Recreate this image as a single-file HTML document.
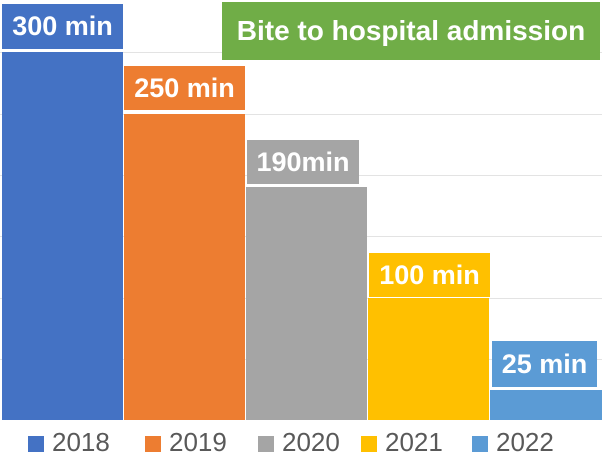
<!DOCTYPE html>
<html><head><style>
body{margin:0;width:602px;height:464px;background:#fff;position:relative;overflow:hidden;font-family:"Liberation Sans",sans-serif}
div{position:absolute;box-sizing:border-box}
.g{left:0;width:602px;height:1px;background:#e3e3e3}
.lab{color:#fff;font-weight:bold;font-size:27px;display:flex;align-items:center;justify-content:center;white-space:nowrap}
.sq{width:16px;height:16px;top:436px}
.lt{top:427px;font-size:26px;color:#595959}
</style></head><body>
<div class="g" style="top:52px"></div><div class="g" style="top:114px"></div><div class="g" style="top:175px"></div><div class="g" style="top:236px"></div><div class="g" style="top:298px"></div><div class="g" style="top:359px"></div>
<div style="left:2px;top:52px;width:121px;height:368px;background:#4472c4"></div>
<div style="left:124px;top:114px;width:121px;height:306px;background:#ed7d31"></div>
<div style="left:246px;top:187px;width:121px;height:233px;background:#a5a5a5"></div>
<div style="left:368px;top:298px;width:121px;height:122px;background:#ffc000"></div>
<div style="left:490px;top:390px;width:112px;height:30px;background:#5b9bd5"></div>
<div class="lab" style="left:2px;top:4px;width:121px;height:45px;background:#4472c4">300 min</div>
<div class="lab" style="left:124px;top:66px;width:121px;height:44px;background:#ed7d31">250 min</div>
<div class="lab" style="left:247px;top:140px;width:112px;height:44px;background:#a5a5a5">190min</div>
<div class="lab" style="left:369px;top:253px;width:121px;height:44px;background:#ffc000">100 min</div>
<div class="lab" style="left:492px;top:341px;width:105px;height:46px;background:#5b9bd5">25 min</div>
<div class="lab" style="left:222px;top:2px;width:378px;height:58px;background:#70ad47;font-size:28px">Bite to hospital admission</div>
<div class="sq" style="left:28px;background:#4472c4"></div><div class="lt" style="left:52px">2018</div>
<div class="sq" style="left:145px;background:#ed7d31"></div><div class="lt" style="left:169px">2019</div>
<div class="sq" style="left:258px;background:#a5a5a5"></div><div class="lt" style="left:282px">2020</div>
<div class="sq" style="left:361px;background:#ffc000"></div><div class="lt" style="left:385px">2021</div>
<div class="sq" style="left:472px;background:#5b9bd5"></div><div class="lt" style="left:496px">2022</div>
</body></html>
